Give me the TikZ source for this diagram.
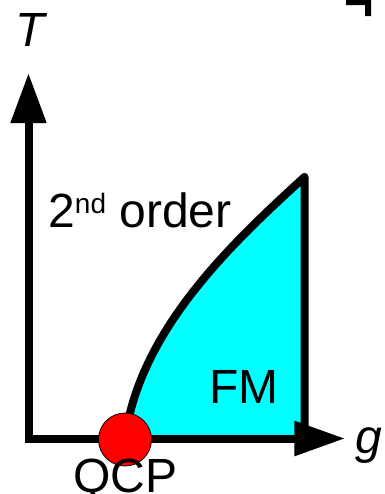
\documentclass[tikz,border=0pt]{standalone}
\usepackage{fontspec}
\setmainfont{Liberation Sans}
\usetikzlibrary{arrows.meta}
\definecolor{fmcyan}{RGB}{0,255,255}
\definecolor{qcpred}{RGB}{255,0,0}
\tikzset{
  axis/.style={line width=6pt, line join=miter,
               {Triangle[length=37.5pt,width=25.5pt]}-{Triangle[length=38pt,width=25pt]}},
  border/.style={line width=6pt, line join=round, line cap=round},
  lbl/.style={inner sep=0pt, text=black, font=\fontsize{36}{40}\selectfont},
}
\begin{document}
\begin{tikzpicture}[x=0.75pt, y=-0.75pt]
  \useasboundingbox (0,0) rectangle (385,494);

  \coordinate (origin) at (28.5,438.5);
  \coordinate (ttip) at (28.5,73);
  \coordinate (gtip) at (345,438.5);
  \coordinate (qcp) at (125,438.5);
  \coordinate (top) at (304.5,177);
  \coordinate (foot) at (304.5,438.5);

  % FM phase
  \fill[fmcyan] (qcp) .. controls (140,330) and (230,245) .. (top) -- (foot) -- cycle;
  \draw[border] (qcp) .. controls (140,330) and (230,245) .. (top) -- (foot);

  % axes
  \draw[axis] (ttip) -- (origin) -- (gtip);

  % cut piece, top right
  \fill (346,0) -- (371,0) -- (371,16) -- (365,16) -- (365,5) -- (346,5) -- cycle;

  \fill[qcpred, draw=black, line width=0.6pt] (125,439.5) circle[radius=26.5];

  \node[lbl, anchor=base west] (tlabel) at (15,46) {\itshape T};
  \node[lbl, anchor=base west] (glabel) at (355,453) {\itshape g};
  \node[lbl, anchor=base west] (order) at (48,227)
    {2\raisebox{10.5pt}{\fontsize{21}{21}\selectfont nd} order};
  \node[lbl, anchor=base west] (fm) at (209,403) {FM};
  \node[lbl, anchor=base west] (qcplabel) at (73,492) {QCP};
\end{tikzpicture}
\end{document}
